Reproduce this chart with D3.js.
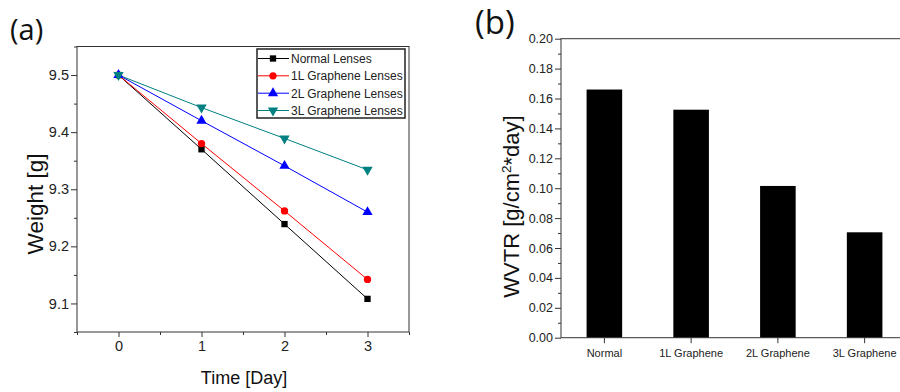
<!DOCTYPE html>
<html><head><meta charset="utf-8">
<script src="https://cdn.jsdelivr.net/npm/d3@7"></script>
<style>
html,body{margin:0;padding:0;background:#fff;}
svg{display:block;}
text{font-family:"Liberation Sans",Arial,sans-serif;}
</style></head>
<body>
<svg id="c" width="900" height="392"></svg>
<script>
// ---- data ----
const days = [0, 1, 2, 3];
const seriesNames = ["Normal Lenses", "1L Graphene Lenses", "2L Graphene Lenses", "3L Graphene Lenses"];
const normalW = [9.5, 9.37, 9.239, 9.108];
const g1W = [9.5, 9.38, 9.262, 9.142];
const g2W = [9.5, 9.42, 9.341, 9.26];
const g3W = [9.5, 9.443, 9.389, 9.334];
const weightTicks = [9.1, 9.2, 9.3, 9.4, 9.5];
const dayTicks = [0, 1, 2, 3];
const barCats = ["Normal", "1L Graphene", "2L Graphene", "3L Graphene"];
const wvtr = [0.166, 0.1525, 0.1015, 0.0705];
const wvtrTicks = [0.00, 0.02, 0.04, 0.06, 0.08, 0.10, 0.12, 0.14, 0.16, 0.18, 0.20];

const svg = d3.select("#c");
const axisCol = "#333";

// ================= Panel (a) =================
const L = {l: 77, r: 409, t: 46.5, b: 332};
const x = d3.scaleLinear().domain([-0.5, 3.5]).range([L.l, L.r]);
const y = d3.scaleLinear().domain([9.05, 9.55]).range([L.b, L.t]);

const ga = svg.append("g");
ga.append("rect").attr("x", L.l).attr("y", L.t).attr("width", L.r - L.l).attr("height", L.b - L.t)
  .attr("fill", "none").attr("stroke", axisCol).attr("stroke-width", 1);

function styleAxis(g, fs) {
  g.select(".domain").remove();
  g.selectAll(".tick line").attr("stroke", axisCol);
  g.selectAll(".tick text").attr("fill", "#222").style("font-size", fs + "px")
    .style("font-family", '"Liberation Sans",Arial,sans-serif');
}
ga.append("g").attr("transform", `translate(${L.l},0)`)
  .call(d3.axisLeft(y).tickValues(weightTicks).tickSize(6).tickPadding(2).tickFormat(d3.format(".1f")))
  .call(g => styleAxis(g, 14.5));
const yMinor = d3.range(9.05, 9.56, 0.1).map(v => +v.toFixed(2));
ga.append("g").attr("transform", `translate(${L.l},0)`)
  .call(d3.axisLeft(y).tickValues(yMinor).tickSize(3).tickFormat(""))
  .call(g => styleAxis(g, 14));
ga.append("g").attr("transform", `translate(0,${L.b})`)
  .call(d3.axisBottom(x).tickValues(dayTicks).tickSize(5).tickPadding(4).tickFormat(d3.format("d")))
  .call(g => styleAxis(g, 14.5));
ga.append("g").attr("transform", `translate(0,${L.b})`)
  .call(d3.axisBottom(x).tickValues([-0.5, 0.5, 1.5, 2.5, 3.5]).tickSize(3).tickFormat(""))
  .call(g => styleAxis(g, 14));

const series = [
  {name: seriesNames[0], vals: normalW, color: "#000000", sym: d3.symbolSquare, size: 40},
  {name: seriesNames[1], vals: g1W, color: "#ff0000", sym: d3.symbolCircle, size: 42},
  {name: seriesNames[2], vals: g2W, color: "#0000ff", sym: d3.symbolTriangle, size: 46, rot: 0},
  {name: seriesNames[3], vals: g3W, color: "#008080", sym: d3.symbolTriangle, size: 46, rot: 180}
];
const line = d3.line().x((d, i) => x(days[i])).y(d => y(d));
series.forEach(s => {
  ga.append("path").attr("d", line(s.vals)).attr("fill", "none")
    .attr("stroke", s.color).attr("stroke-width", 1);
});
series.forEach(s => {
  ga.selectAll(null).data(s.vals).enter().append("path")
    .attr("d", d3.symbol().type(s.sym).size(s.size))
    .attr("transform", (d, i) => `translate(${x(days[i])},${y(d)}) rotate(${s.rot || 0})`)
    .attr("fill", s.color);
});

// legend
const lg = ga.append("g");
lg.append("rect").attr("x", 257).attr("y", 49).attr("width", 148).attr("height", 69)
  .attr("fill", "#fff").attr("stroke", "#222").attr("stroke-width", 1.5);
const rowY = [58.5, 75.8, 93.2, 110.5];
series.forEach((s, i) => {
  lg.append("line").attr("x1", 258).attr("x2", 289).attr("y1", rowY[i]).attr("y2", rowY[i])
    .attr("stroke", s.color).attr("stroke-width", 1);
  lg.append("path").attr("d", d3.symbol().type(s.sym).size(s.size))
    .attr("transform", `translate(273,${rowY[i]}) rotate(${s.rot || 0})`).attr("fill", s.color);
  lg.append("text").attr("x", 291).attr("y", rowY[i]).attr("dy", "0.36em")
    .style("font-size", "12px").attr("fill", "#222").text(s.name);
});

// titles
ga.append("text").attr("transform", "translate(42.5,204) rotate(-90)").attr("text-anchor", "middle")
  .style("font-size", "22.5px").attr("fill", "#111").text("Weight [g]");
ga.append("text").attr("x", 244).attr("y", 384).attr("text-anchor", "middle")
  .style("font-size", "18px").attr("fill", "#111").text("Time [Day]");
ga.append("text").attr("x", 10).attr("y", 39.5)
  .style("font-family", '"Open Sans",sans-serif').style("font-size", "29px").attr("fill", "#111").text("(a)");

// ================= Panel (b) =================
const R = {l: 561, r: 908, t: 38.7, b: 337.7};
const x2 = d3.scaleBand().domain(barCats).range([R.l, R.r]).paddingInner(0.59).paddingOuter(0.295);
const y2 = d3.scaleLinear().domain([0, 0.2]).range([R.b, R.t]);
const gb = svg.append("g");

gb.selectAll(null).data(wvtr).enter().append("rect")
  .attr("x", (d, i) => x2(barCats[i])).attr("width", x2.bandwidth())
  .attr("y", d => y2(d)).attr("height", d => y2(0) - y2(d)).attr("fill", "#000");

gb.append("rect").attr("x", R.l).attr("y", R.t).attr("width", R.r - R.l).attr("height", R.b - R.t)
  .attr("fill", "none").attr("stroke", axisCol).attr("stroke-width", 1);

gb.append("g").attr("transform", `translate(${R.l},0)`)
  .call(d3.axisLeft(y2).tickValues(wvtrTicks).tickSize(6).tickPadding(2).tickFormat(d3.format(".2f")))
  .call(g => styleAxis(g, 12.5));
const wMinor = d3.range(0.01, 0.2, 0.02).map(v => +v.toFixed(2));
gb.append("g").attr("transform", `translate(${R.l},0)`)
  .call(d3.axisLeft(y2).tickValues(wMinor).tickSize(3).tickFormat(""))
  .call(g => styleAxis(g, 12));
gb.append("g").attr("transform", `translate(0,${R.b})`)
  .call(d3.axisBottom(x2).tickSize(5.5).tickPadding(6))
  .call(g => styleAxis(g, 11));

const yl = gb.append("text").attr("transform", "translate(519,206.5) rotate(-90)").attr("text-anchor", "middle")
  .style("font-size", "22px").attr("fill", "#111");
yl.append("tspan").text("WVTR [g/cm");
yl.append("tspan").attr("dy", "-8").style("font-size", "13.5px").text("2");
yl.append("tspan").attr("dy", "8").text("*day]");

gb.append("text").attr("x", 475).attr("y", 34)
  .style("font-family", '"Open Sans",sans-serif').style("font-size", "33px").attr("fill", "#111").text("(b)");
</script>
</body></html>
